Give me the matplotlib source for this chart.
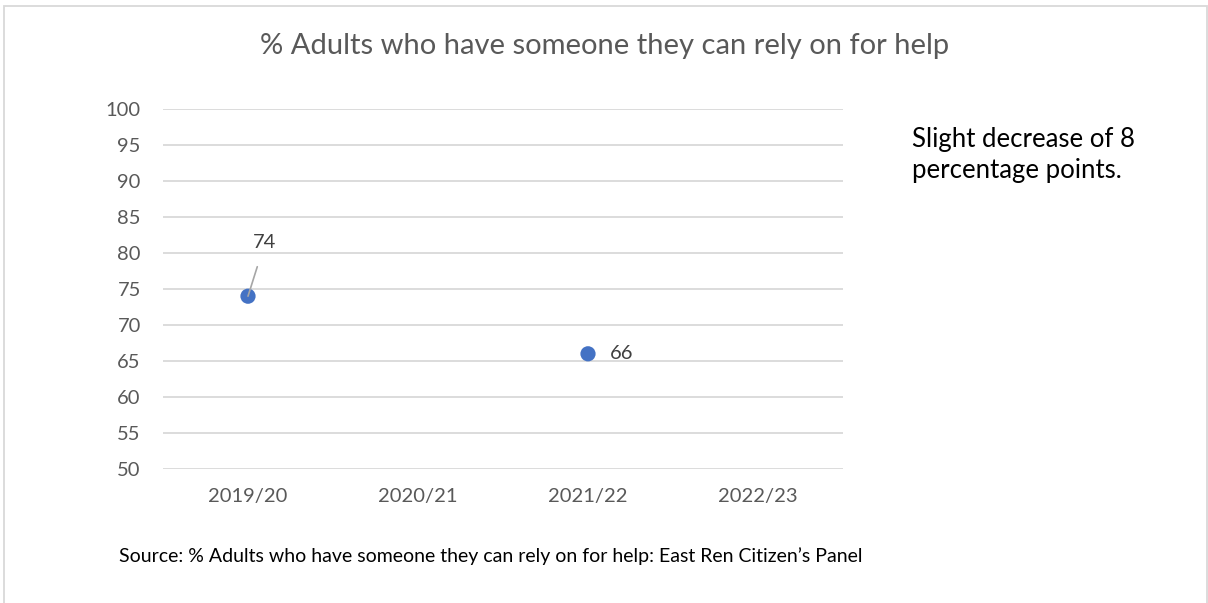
import matplotlib.pyplot as plt
from matplotlib.patches import Rectangle

years = ["2019/20", "2020/21", "2021/22", "2022/23"]
values = [74, None, 66, None]
yTicks = list(range(50, 101, 5))

plt.rcParams['font.family'] = ['Lato', 'DejaVu Sans']

W, H = 1208, 603
fig = plt.figure(figsize=(W / 100, H / 100), dpi=100)

# axes box in pixels: x 163..843, y 109..469
ax = fig.add_axes([163 / W, 1 - 469 / H, 680 / W, 360 / H])
ax.set_xlim(-0.5, len(years) - 0.5)
ax.set_ylim(50, 100)
ax.set_yticks(yTicks)
ax.set_xticks(range(len(years)))
ax.set_xticklabels(years)
ax.grid(axis='y', color='#d9d9d9', linewidth=1.3)
ax.set_axisbelow(True)
for s in ax.spines.values():
    s.set_visible(False)
ax.tick_params(length=0, labelsize=14.5, labelcolor='#595959')
ax.tick_params(axis='y', pad=16)
ax.tick_params(axis='x', pad=14)

xs = [i for i, v in enumerate(values) if v is not None]
ys = [v for v in values if v is not None]
ax.scatter(xs, ys, s=120, color='#4472C4', zorder=3, edgecolors='none')

# data labels
ax.annotate(str(values[0]), xy=(0, values[0]), xytext=(17, 54), textcoords='offset pixels',
            ha='center', va='center', fontsize=14.5, color='#404040',
            arrowprops=dict(arrowstyle='-', color='#a6a6a6', lw=1.2, shrinkA=10, shrinkB=0))
ax.annotate(str(values[2]), xy=(2, values[2]), xytext=(22, 0), textcoords='offset pixels',
            ha='left', va='center', fontsize=14.5, color='#404040')

fig.text(605 / W, 1 - 46 / H, "% Adults who have someone they can rely on for help",
         ha='center', va='center', fontsize=21, color='#595959')
fig.text(912 / W, 1 - 155 / H, "Slight decrease of 8\npercentage points.",
         ha='left', va='center', fontsize=18.5, color='black', linespacing=1.3)
fig.text(119 / W, 1 - 556 / H,
         "Source: % Adults who have someone they can rely on for help: East Ren Citizen\u2019s Panel",
         ha='left', va='center', fontsize=14, color='black')

fig.patches.append(Rectangle((4 / W, -0.05), 1203 / W, 1 - 6 / H + 0.05, transform=fig.transFigure,
                             fill=False, edgecolor='#d9d9d9', linewidth=1.3))

fig.savefig("out.png", dpi=100)
